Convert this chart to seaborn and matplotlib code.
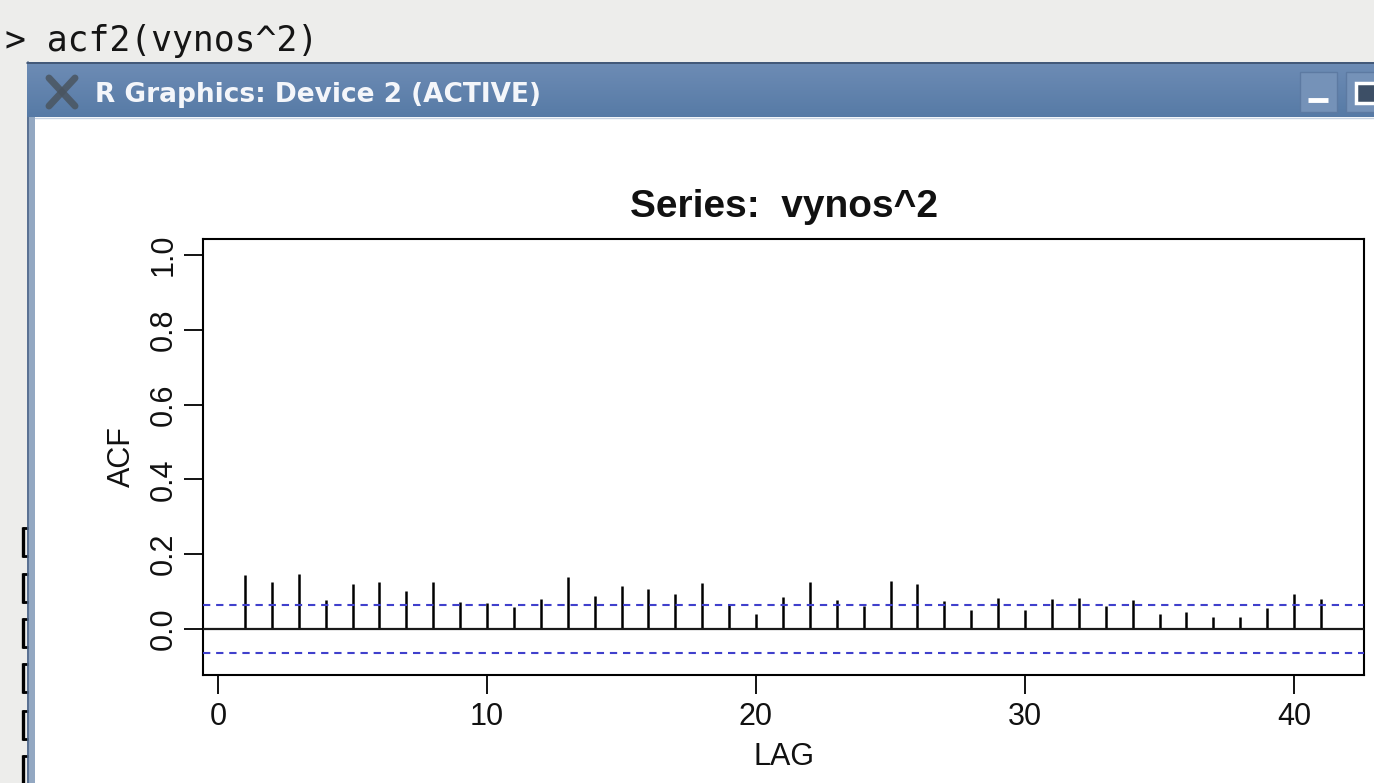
import matplotlib
matplotlib.use("Agg")
import matplotlib.pyplot as plt
import numpy as np
import seaborn as sns
from matplotlib.patches import Rectangle


sns.set_theme(style="ticks")
plt.rcParams["font.family"] = ["Liberation Sans", "DejaVu Sans"]

# sample ACF of vynos^2, lags 1..41
lags = list(range(1, 42))
acf = [0.144, 0.126, 0.147, 0.078, 0.120, 0.126, 0.102, 0.127, 0.072, 0.070,
       0.059, 0.080, 0.140, 0.088, 0.116, 0.107, 0.094, 0.123, 0.064, 0.040,
       0.086, 0.127, 0.078, 0.062, 0.129, 0.120, 0.076, 0.051, 0.083, 0.051,
       0.080, 0.083, 0.062, 0.078, 0.040, 0.046, 0.032, 0.032, 0.056, 0.094,
       0.080]
conf_bound = 0.064

x_ticks = [0, 10, 20, 30, 40]
y_ticks = [0.0, 0.2, 0.4, 0.6, 0.8, 1.0]
y_tick_labels = ["0.0", "0.2", "0.4", "0.6", "0.8", "1.0"]

command = "> acf2(vynos^2)"
window_title = "R Graphics: Device 2 (ACTIVE)"
plot_title = "Series:  vynos^2"

W, H = 1374, 783


def main():
    fig = plt.figure(figsize=(W / 100, H / 100), dpi=100, facecolor="#ededeb")

    # screenshot chrome, drawn in pixel coordinates
    bg = fig.add_axes([0, 0, 1, 1])
    bg.set_xlim(0, W)
    bg.set_ylim(H, 0)
    bg.axis("off")

    bg.text(5, 41, command, fontsize=25, family="DejaVu Sans Mono",
            color="#151515", va="center", ha="left")

    # console output peeking out on the left
    for y0 in [527, 573, 618, 663, 710, 755]:
        bg.plot([23, 23], [y0, y0 + 30], color="black", lw=2.4, solid_capstyle="butt")
        bg.plot([21.5, 28], [y0 + 1, y0 + 1], color="black", lw=2.0, solid_capstyle="butt")
        bg.plot([21.5, 28], [y0 + 29, y0 + 29], color="black", lw=2.0, solid_capstyle="butt")

    # window body + border
    bg.add_patch(Rectangle((27, 62), W - 27, H - 62, facecolor="white", edgecolor="none", zorder=1))
    bg.add_patch(Rectangle((27, 62), 8, H - 62, facecolor="#93a8c2", edgecolor="none", zorder=1))
    bg.plot([27.5, 27.5], [62, H], color="#50688a", lw=1.2, zorder=2)

    # title bar gradient
    grad = np.linspace(0, 1, 60).reshape(-1, 1)
    top = np.array([0.43, 0.55, 0.71])
    bot = np.array([0.34, 0.48, 0.65])
    img = top + (bot - top) * grad[..., None]
    img = np.repeat(img, 2, axis=1)
    bg.imshow(img, extent=[27, W, 117, 62], aspect="auto",
              interpolation="bilinear", zorder=3)
    bg.set_xlim(0, W)
    bg.set_ylim(H, 0)
    bg.plot([27, W], [62.5, 62.5], color="#3b4f6e", lw=1.2, zorder=4)
    bg.plot([35, W], [117.5, 117.5], color="#c8d4e2", lw=1.0, zorder=4)

    # X icon
    bg.plot([49, 75], [78, 106], color="#4a5560", lw=5, alpha=0.85, zorder=5)
    bg.plot([49, 75], [106, 78], color="#4a5560", lw=5, alpha=0.85, zorder=5)

    bg.text(95, 95, window_title, fontsize=19, family="DejaVu Sans",
            fontweight="bold", color="#f4f6fa", va="center", ha="left", zorder=6)

    # minimise / maximise buttons
    bg.add_patch(Rectangle((1300, 72), 37, 40, facecolor="#7592b8", edgecolor="#5d7aa2", lw=1, zorder=5))
    bg.plot([1308, 1328], [100, 100], color="white", lw=3.5, solid_capstyle="butt", zorder=6)
    bg.add_patch(Rectangle((1346, 72), 40, 40, facecolor="#7592b8", edgecolor="#5d7aa2", lw=1, zorder=5))
    bg.add_patch(Rectangle((1356, 83), 22, 20, facecolor="#3d4f66", edgecolor="white", lw=2.5, zorder=6))

    # the ACF panel
    ax = fig.add_axes([203 / W, 1 - 675 / H, (1364 - 203) / W, (675 - 239) / H])
    ax.set_facecolor("white")

    ax.vlines(lags, 0, acf, color="black", lw=1.8, zorder=3)
    ax.axhline(0, color="#1a1a1a", lw=1.6, zorder=3)
    for b in (conf_bound, -conf_bound):
        ax.axhline(b, color="#4040cc", lw=1.5, ls=(0, (3.5, 2.8)), zorder=3)

    ax.set_xlim(-15 / 26.9, 1146 / 26.9)
    ax.set_ylim(-46 / 374, 390 / 374)
    ax.set_xticks(x_ticks)
    ax.set_xticklabels([str(t) for t in x_ticks])
    ax.set_yticks(y_ticks)
    ax.set_yticklabels(y_tick_labels)

    for s in ax.spines.values():
        s.set_visible(True)
        s.set_color("black")
        s.set_linewidth(1.5)

    ax.tick_params(axis="both", length=13.5, width=1.3, color="black",
                   labelsize=22, labelcolor="#111111", direction="out")
    ax.tick_params(axis="x", pad=6)
    ax.tick_params(axis="y", pad=4, labelrotation=90)
    for lab in ax.get_yticklabels():
        lab.set_va("center")

    ax.set_xlabel("LAG", fontsize=22, color="#111111")
    ax.xaxis.set_label_coords(0.5, (675 - 757) / 436)
    ax.xaxis.label.set_va("center")
    ax.set_ylabel("ACF", fontsize=22, color="#111111")
    ax.yaxis.set_label_coords((122 - 203) / 1161, 0.5)
    ax.yaxis.label.set_va("center")
    ax.yaxis.label.set_ha("center")

    ax.set_title(plot_title, fontsize=28, fontweight="bold", color="#111111",
                 y=(675 - 207) / 436, va="center", pad=0)

    fig.savefig("out.png", dpi=100, facecolor=fig.get_facecolor())
    plt.close(fig)


if __name__ == "__main__":
    main()
